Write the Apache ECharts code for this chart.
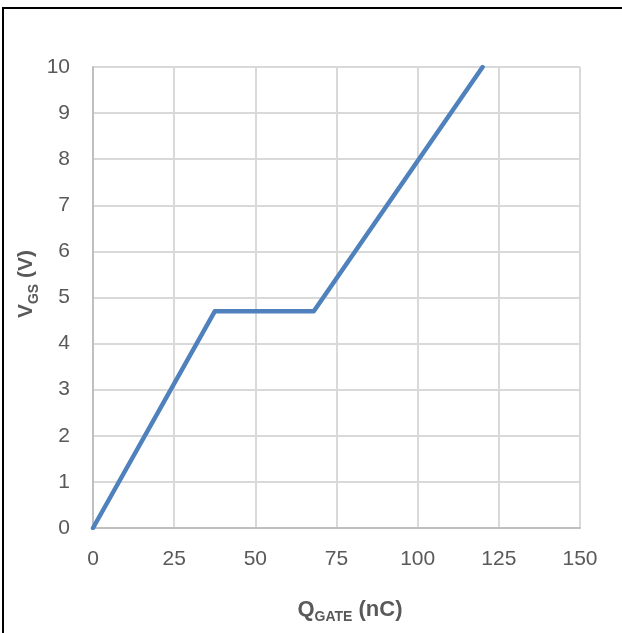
<!DOCTYPE html>
<html>
<head>
<meta charset="utf-8">
<script src="https://cdn.jsdelivr.net/npm/echarts@6/dist/echarts.min.js"></script>
<style>
html,body{margin:0;padding:0;background:#fff;}
#chart{position:absolute;left:0;top:0;width:622px;height:633px;}
#frame{position:absolute;left:2px;top:7px;width:700px;height:700px;border-top:2px solid #000;border-left:2px solid #000;pointer-events:none;}
</style>
</head>
<body>
<div id="chart"></div>
<div id="frame"></div>
<script>
// Gate charge curve
var qGate = [0, 37.5, 68, 120];      // nC
var vGs   = [0, 4.7, 4.7, 10];       // V
var xTicks = [0, 25, 50, 75, 100, 125, 150];
var yTicks = [0, 1, 2, 3, 4, 5, 6, 7, 8, 9, 10];

var data = qGate.map(function(q, i){ return [q, vGs[i]]; });
var FONT = 'Liberation Sans';

var chart = echarts.init(document.getElementById('chart'), null, {renderer:'canvas'});
chart.setOption({
  animation: false,
  backgroundColor: '#fff',
  grid: {left: 93, right: 42, top: 67, bottom: 105, containLabel: false},
  xAxis: {
    type: 'value',
    min: xTicks[0], max: xTicks[xTicks.length-1], interval: 25,
    axisLine: {show: true, lineStyle: {color: '#bfbfbf', width: 2}},
    axisTick: {show: false},
    splitLine: {show: true, lineStyle: {color: '#d9d9d9', width: 2}},
    axisLabel: {color: '#595959', fontFamily: FONT, fontSize: 21, margin: 21}
  },
  yAxis: {
    type: 'value',
    min: yTicks[0], max: yTicks[yTicks.length-1], interval: 1,
    axisLine: {show: true, lineStyle: {color: '#bfbfbf', width: 2}},
    axisTick: {show: false},
    splitLine: {show: true, lineStyle: {color: '#d9d9d9', width: 2}},
    axisLabel: {color: '#595959', fontFamily: FONT, fontSize: 21, margin: 23}
  },
  series: [{
    type: 'line',
    data: data,
    showSymbol: false,
    symbol: 'none',
    lineStyle: {color: '#4f81bd', width: 4.5, cap: 'round', join: 'round'}
  }],
  graphic: [
    {
      type: 'text',
      x: 350, y: 608,
      style: {
        text: '{a|Q}{b|GATE}{a| (nC)}',
        align: 'center', verticalAlign: 'middle',
        rich: {
          a: {fontFamily: FONT, fontWeight: 'bold', fontSize: 22, fill: '#595959', color: '#595959', verticalAlign: 'bottom', lineHeight: 25},
          b: {fontFamily: FONT, fontWeight: 'bold', fontSize: 14, fill: '#595959', color: '#595959', verticalAlign: 'bottom', lineHeight: 20, padding: [0,0,-4,0]}
        }
      }
    },
    {
      type: 'text',
      x: 25, y: 284,
      rotation: Math.PI / 2,
      style: {
        text: '{a|V}{b|GS}{a| (V)}',
        align: 'center', verticalAlign: 'middle',
        rich: {
          a: {fontFamily: FONT, fontWeight: 'bold', fontSize: 21, fill: '#595959', color: '#595959', verticalAlign: 'bottom', lineHeight: 24},
          b: {fontFamily: FONT, fontWeight: 'bold', fontSize: 14, fill: '#595959', color: '#595959', verticalAlign: 'bottom', lineHeight: 20, padding: [0,0,-4,0]}
        }
      }
    }
  ]
});
</script>
</body>
</html>
